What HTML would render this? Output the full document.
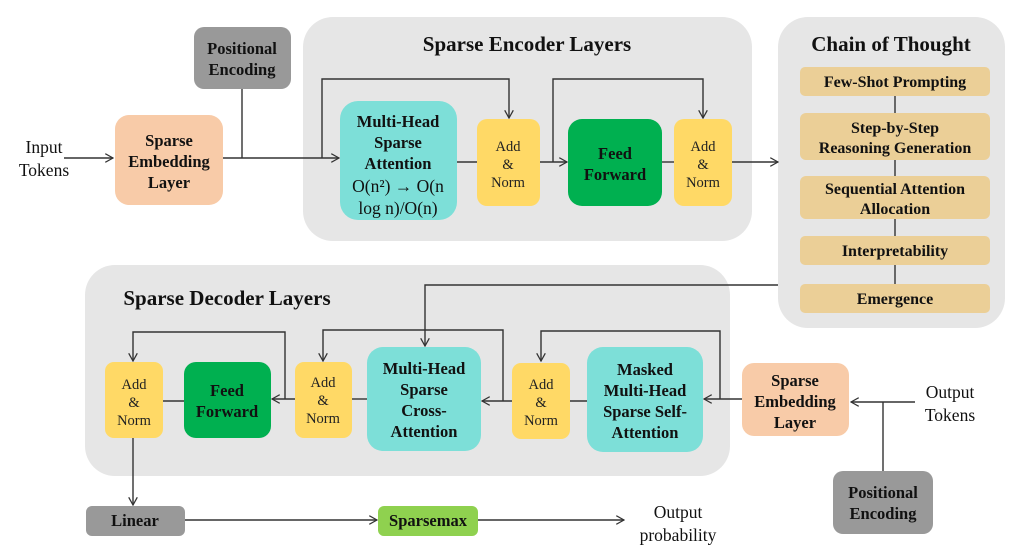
<!DOCTYPE html>
<html><head><meta charset="utf-8"><style>
html,body{margin:0;padding:0;background:#fff;}
svg{display:block;font-family:"Liberation Serif",serif;}
.b{font-weight:bold;}
</style></head><body>
<svg width="1018" height="552" viewBox="0 0 1018 552" xmlns="http://www.w3.org/2000/svg">
<defs><marker id="a" viewBox="0 0 10 10" refX="9" refY="5" markerWidth="9" markerHeight="9" orient="auto" markerUnits="userSpaceOnUse"><path d="M0,0 L9,5 L0,10" fill="none" stroke="#333" stroke-width="1.4"/></marker></defs>
<rect x="303" y="17" width="449" height="224" rx="30" fill="#e6e6e6"/>
<rect x="778" y="17" width="227" height="311" rx="30" fill="#e6e6e6"/>
<rect x="85" y="265" width="645" height="211" rx="30" fill="#e6e6e6"/>
<g class="b" font-size="21" fill="#111" text-anchor="middle">
<text x="527" y="51">Sparse Encoder Layers</text>
<text x="891" y="51">Chain of Thought</text>
<text x="227" y="305">Sparse Decoder Layers</text>
</g>
<g stroke="#333" stroke-width="1.4" fill="none">
<line x1="64" y1="158" x2="113" y2="158" marker-end="url(#a)"/>
<line x1="242" y1="89" x2="242" y2="158"/>
<line x1="223" y1="158" x2="339" y2="158" marker-end="url(#a)"/>
<polyline points="322,158 322,79 509,79 509,118" marker-end="url(#a)"/>
<line x1="457" y1="162" x2="477" y2="162"/>
<line x1="540" y1="162" x2="567" y2="162" marker-end="url(#a)"/>
<polyline points="553,162 553,79 703,79 703,118" marker-end="url(#a)"/>
<line x1="662" y1="162" x2="674" y2="162"/>
<line x1="732" y1="162" x2="778" y2="162" marker-end="url(#a)"/>
<line x1="895" y1="96" x2="895" y2="113"/>
<line x1="895" y1="160" x2="895" y2="176"/>
<line x1="895" y1="219" x2="895" y2="236"/>
<line x1="895" y1="265" x2="895" y2="284"/>
<polyline points="778,285 425,285 425,346" marker-end="url(#a)"/>
<line x1="915" y1="402" x2="851" y2="402" marker-end="url(#a)"/>
<line x1="883" y1="402" x2="883" y2="471"/>
<line x1="742" y1="399" x2="704" y2="399" marker-end="url(#a)"/>
<polyline points="720,399 720,331 541,331 541,361" marker-end="url(#a)"/>
<line x1="570" y1="401" x2="587" y2="401"/>
<line x1="512" y1="401" x2="482" y2="401" marker-end="url(#a)"/>
<polyline points="503,401 503,330 323,330 323,361" marker-end="url(#a)"/>
<line x1="367" y1="399" x2="352" y2="399"/>
<line x1="295" y1="399" x2="272" y2="399" marker-end="url(#a)"/>
<polyline points="285,399 285,332 133,332 133,361" marker-end="url(#a)"/>
<line x1="184" y1="401" x2="163" y2="401"/>
<line x1="133" y1="438" x2="133" y2="505" marker-end="url(#a)"/>
<line x1="185" y1="520" x2="377" y2="520" marker-end="url(#a)"/>
<line x1="478" y1="520" x2="624" y2="520" marker-end="url(#a)"/>
</g>
<rect x="194" y="27" width="97" height="62" rx="10" fill="#999"/>
<rect x="115" y="115" width="108" height="90" rx="14" fill="#f8cba8"/>
<rect x="340" y="101" width="117" height="119" rx="18" fill="#7ddfd8"/>
<rect x="477" y="119" width="63" height="87" rx="10" fill="#ffd966"/>
<rect x="568" y="119" width="94" height="87" rx="14" fill="#00b050"/>
<rect x="674" y="119" width="58" height="87" rx="10" fill="#ffd966"/>
<g fill="#ebcf97">
<rect x="800" y="67" width="190" height="29" rx="5"/>
<rect x="800" y="113" width="190" height="47" rx="6"/>
<rect x="800" y="176" width="190" height="43" rx="6"/>
<rect x="800" y="236" width="190" height="29" rx="5"/>
<rect x="800" y="284" width="190" height="29" rx="5"/>
</g>
<rect x="105" y="362" width="58" height="76" rx="9" fill="#ffd966"/>
<rect x="184" y="362" width="87" height="76" rx="12" fill="#00b050"/>
<rect x="295" y="362" width="57" height="76" rx="9" fill="#ffd966"/>
<rect x="367" y="347" width="114" height="104" rx="16" fill="#7ddfd8"/>
<rect x="512" y="363" width="58" height="76" rx="9" fill="#ffd966"/>
<rect x="587" y="347" width="116" height="105" rx="16" fill="#7ddfd8"/>
<rect x="742" y="363" width="107" height="73" rx="12" fill="#f8cba8"/>
<rect x="833" y="471" width="100" height="63" rx="10" fill="#999"/>
<rect x="86" y="506" width="99" height="30" rx="6" fill="#999"/>
<rect x="378" y="506" width="100" height="30" rx="6" fill="#8fd14f"/>
<g font-size="17.5" fill="#111" text-anchor="middle">
<text x="44" y="153">Input</text><text x="44" y="176">Tokens</text>
<text x="950" y="398">Output</text><text x="950" y="421">Tokens</text>
<text x="678" y="518">Output</text><text x="678" y="541">probability</text>
<text x="398" y="192">O(n²) → O(n</text><text x="398" y="214">log n)/O(n)</text>
</g>
<g font-size="14.5" fill="#222" text-anchor="middle">
<text x="508" y="151">Add</text><text x="508" y="169">&amp;</text><text x="508" y="187">Norm</text>
<text x="703" y="151">Add</text><text x="703" y="169">&amp;</text><text x="703" y="187">Norm</text>
<text x="134" y="389">Add</text><text x="134" y="407">&amp;</text><text x="134" y="425">Norm</text>
<text x="323" y="387">Add</text><text x="323" y="405">&amp;</text><text x="323" y="423">Norm</text>
<text x="541" y="389">Add</text><text x="541" y="407">&amp;</text><text x="541" y="425">Norm</text>
</g>
<g class="b" font-size="16.5" fill="#111" text-anchor="middle">
<text x="242" y="54">Positional</text><text x="242" y="75">Encoding</text>
<text x="169" y="146">Sparse</text><text x="169" y="167">Embedding</text><text x="169" y="188">Layer</text>
<text x="398" y="127">Multi-Head</text><text x="398" y="148">Sparse</text><text x="398" y="169">Attention</text>
<text x="615" y="159">Feed</text><text x="615" y="180">Forward</text>
<text x="227" y="396">Feed</text><text x="227" y="417">Forward</text>
<text x="424" y="374">Multi-Head</text><text x="424" y="395">Sparse</text><text x="424" y="416">Cross-</text><text x="424" y="437">Attention</text>
<text x="645" y="375">Masked</text><text x="645" y="396">Multi-Head</text><text x="645" y="417">Sparse Self-</text><text x="645" y="438">Attention</text>
<text x="795" y="386">Sparse</text><text x="795" y="407">Embedding</text><text x="795" y="428">Layer</text>
<text x="883" y="498">Positional</text><text x="883" y="519">Encoding</text>
<text x="135" y="526">Linear</text>
<text x="428" y="526">Sparsemax</text>
</g>
<g class="b" font-size="16" fill="#111" text-anchor="middle">
<text x="895" y="87">Few-Shot Prompting</text>
<text x="895" y="133">Step-by-Step</text><text x="895" y="153">Reasoning Generation</text>
<text x="895" y="194">Sequential Attention</text><text x="895" y="214">Allocation</text>
<text x="895" y="256">Interpretability</text>
<text x="895" y="304">Emergence</text>
</g>
</svg>
</body></html>
